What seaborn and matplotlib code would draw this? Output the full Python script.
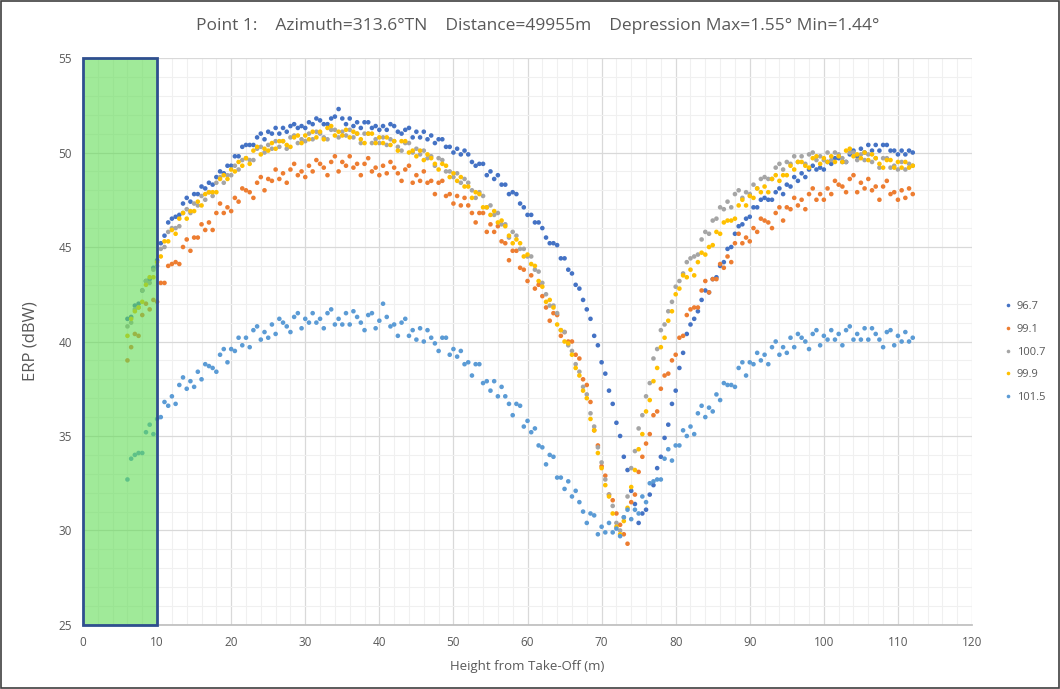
import numpy as np
import pandas as pd
import matplotlib
matplotlib.use("Agg")
import matplotlib.pyplot as plt
from matplotlib.patches import Rectangle
from matplotlib.lines import Line2D
import seaborn as sns

# ---------------- data ----------------
series_names = ["96.7", "99.1", "100.7", "99.9", "101.5"]
series_colors = ["#4472C4", "#ED7D31", "#A5A5A5", "#FFC000", "#5B9BD5"]

# heights from take-off, every 0.5 m from 6 m to 112 m
heights = np.arange(6.0, 112.01, 0.5)

erp_96_7 = [
    41.2, 41.3, 41.9, 42.0, 42.7, 43.2, 43.3, 43.9, 44.3, 45.2,
    45.6, 46.3, 46.5, 46.6, 46.7, 47.3, 47.6, 47.4, 47.8, 47.8,
    48.2, 48.1, 48.4, 48.3, 48.7, 49.0, 48.9, 49.3, 49.3, 49.8,
    49.8, 50.3, 50.4, 50.4, 50.4, 50.8, 51.0, 50.7, 51.1, 51.0,
    51.3, 51.0, 51.3, 51.1, 51.4, 51.5, 51.3, 51.4, 51.3, 51.6,
    51.5, 51.8, 51.7, 51.5, 51.5, 51.8, 51.9, 52.3, 51.8, 51.5,
    51.8, 51.4, 51.6, 51.3, 51.6, 51.6, 51.3, 51.4, 51.2, 51.4,
    51.2, 51.5, 51.4, 51.1, 51.0, 51.2, 51.3, 50.8, 51.1, 50.8,
    51.1, 50.7, 50.9, 50.5, 50.7, 50.7, 50.3, 50.3, 50.0, 50.2,
    49.9, 50.1, 49.9, 49.5, 49.3, 49.4, 49.4, 48.8, 49.0, 48.6,
    48.8, 48.3, 48.3, 47.8, 47.9, 47.8, 47.3, 47.1, 46.7, 46.7,
    46.3, 46.3, 46.0, 45.5, 45.2, 45.2, 45.1, 44.4, 44.4, 43.8,
    43.6, 43.0, 42.8, 42.2, 41.7, 41.2, 40.3, 39.8, 38.9, 38.3,
    37.4, 36.7, 35.7, 35.0, 33.9, 33.2, 32.1, 31.4, 30.4, 30.9,
    31.1, 31.9, 32.4, 33.3, 33.9, 34.9, 35.6, 36.7, 37.4, 38.6,
    39.4, 40.4, 40.9, 41.2, 41.6, 42.2, 42.7, 42.6, 43.3, 43.4,
    44.0, 44.2, 44.9, 45.0, 45.7, 46.1, 46.2, 46.5, 46.6, 47.1,
    47.1, 47.5, 47.6, 47.5, 47.5, 47.9, 48.1, 47.8, 48.3, 48.2,
    48.7, 48.5, 48.9, 48.7, 49.1, 49.3, 49.1, 49.2, 49.1, 49.5,
    49.4, 49.7, 49.7, 49.5, 49.5, 49.9, 50.1, 49.8, 50.2, 50.0,
    50.4, 50.1, 50.4, 50.1, 50.4, 50.4, 50.1, 50.1, 49.9, 50.1,
    49.9, 50.1, 50.0,
]

erp_99_1 = [
    39.0, 39.7, 40.4, 40.3, 41.4, 42.0, 41.7, 42.2, 42.1, 43.1,
    43.1, 44.0, 44.1, 44.2, 44.1, 45.0, 45.4, 44.8, 45.5, 45.5,
    46.2, 45.9, 46.3, 45.9, 46.8, 47.3, 46.8, 47.1, 46.9, 47.6,
    47.4, 48.1, 48.0, 47.9, 47.6, 48.4, 48.7, 48.0, 48.6, 48.5,
    49.1, 48.6, 48.9, 48.4, 49.1, 49.4, 48.8, 49.0, 48.7, 49.3,
    49.0, 49.6, 49.4, 49.2, 48.8, 49.5, 49.8, 49.0, 49.5, 49.3,
    49.8, 49.2, 49.4, 48.8, 49.4, 49.7, 49.0, 49.2, 48.8, 49.3,
    48.9, 49.5, 49.2, 48.9, 48.5, 49.1, 49.3, 48.4, 48.8, 48.5,
    49.0, 48.4, 48.5, 47.8, 48.4, 48.5, 47.7, 47.8, 47.3, 47.7,
    47.2, 47.6, 47.2, 46.8, 46.3, 46.8, 46.8, 45.8, 46.2, 45.8,
    46.1, 45.3, 45.2, 44.3, 44.8, 44.8, 43.9, 43.8, 43.2, 43.5,
    42.8, 43.0, 42.4, 41.8, 41.1, 41.5, 41.4, 40.3, 40.5, 40.0,
    40.0, 39.3, 39.1, 38.0, 37.7, 36.8, 35.3, 34.5, 33.4, 32.9,
    31.9, 31.6, 30.9, 30.3, 29.8, 29.3, 31.5, 31.9, 33.1, 33.9,
    34.6, 35.1, 36.1, 36.3, 37.5, 38.2, 38.3, 39.0, 39.3, 40.2,
    40.3, 41.4, 41.7, 41.8, 41.8, 42.7, 43.2, 42.6, 43.3, 43.3,
    44.1, 43.9, 44.5, 44.2, 45.2, 45.7, 45.2, 45.5, 45.3, 46.0,
    45.8, 46.5, 46.4, 46.3, 46.0, 46.8, 47.1, 46.4, 47.1, 47.0,
    47.6, 47.2, 47.5, 47.0, 47.8, 48.1, 47.5, 47.8, 47.5, 48.1,
    47.8, 48.5, 48.3, 48.2, 47.9, 48.6, 48.8, 47.9, 48.4, 48.1,
    48.6, 48.0, 48.2, 47.5, 48.2, 48.5, 47.8, 47.9, 47.5, 48.0,
    47.6, 48.1, 47.8,
]

erp_100_7 = [
    40.8, 41.0, 41.7, 41.8, 42.7, 43.2, 43.1, 43.8, 44.0, 44.9,
    45.0, 45.8, 46.0, 46.0, 46.1, 46.8, 47.0, 46.8, 47.3, 47.2,
    47.7, 47.5, 47.9, 47.7, 48.4, 48.7, 48.4, 48.8, 48.8, 49.3,
    49.1, 49.6, 49.7, 49.6, 49.6, 50.2, 50.3, 50.0, 50.4, 50.2,
    50.6, 50.3, 50.6, 50.2, 50.8, 50.9, 50.5, 50.7, 50.6, 51.0,
    50.7, 51.1, 51.0, 50.8, 50.7, 51.2, 51.2, 50.8, 51.1, 50.9,
    51.2, 50.8, 51.0, 50.5, 51.0, 51.0, 50.5, 50.7, 50.5, 50.8,
    50.4, 50.7, 50.6, 50.3, 50.1, 50.5, 50.5, 50.0, 50.2, 49.9,
    50.1, 49.7, 49.8, 49.3, 49.7, 49.6, 49.0, 49.0, 48.7, 48.9,
    48.4, 48.6, 48.4, 48.0, 47.6, 47.9, 47.7, 47.1, 47.2, 46.7,
    46.8, 46.2, 46.2, 45.5, 45.8, 45.6, 44.9, 44.9, 44.5, 44.5,
    43.8, 43.7, 43.1, 42.5, 41.9, 41.9, 41.5, 40.6, 40.5, 39.8,
    39.5, 38.8, 38.4, 37.6, 37.2, 36.2, 35.5, 34.4, 33.6, 32.7,
    31.9, 31.3, 30.4, 30.0, 30.7, 31.8, 33.3, 34.2, 35.4, 36.1,
    37.1, 37.8, 39.1, 39.6, 40.6, 40.9, 41.6, 42.1, 42.9, 43.2,
    43.6, 44.2, 44.4, 44.5, 44.6, 45.4, 45.8, 45.7, 46.4, 46.5,
    47.1, 47.0, 47.4, 47.1, 47.8, 48.0, 47.6, 47.9, 47.8, 48.3,
    48.1, 48.6, 48.7, 48.6, 48.6, 49.2, 49.4, 49.1, 49.5, 49.4,
    49.8, 49.5, 49.8, 49.4, 49.9, 50.0, 49.6, 49.8, 49.6, 50.0,
    49.6, 50.0, 49.9, 49.7, 49.5, 50.0, 50.0, 49.6, 49.9, 49.6,
    49.9, 49.5, 49.7, 49.2, 49.7, 49.7, 49.2, 49.3, 49.1, 49.5,
    49.1, 49.4, 49.3,
]

erp_99_9 = [
    40.3, 41.2, 41.6, 41.8, 42.1, 43.0, 43.4, 43.4, 44.2, 44.5,
    45.3, 45.3, 45.9, 45.7, 46.5, 46.8, 46.5, 46.9, 46.9, 47.4,
    47.2, 47.8, 47.9, 47.9, 47.9, 48.6, 48.8, 48.6, 49.1, 49.0,
    49.5, 49.3, 49.7, 49.4, 50.1, 50.3, 49.9, 50.2, 50.1, 50.5,
    50.2, 50.6, 50.6, 50.4, 50.3, 50.8, 50.9, 50.5, 50.9, 50.7,
    51.1, 50.8, 51.1, 50.7, 51.3, 51.4, 50.9, 51.1, 50.9, 51.2,
    50.8, 51.1, 51.0, 50.7, 50.5, 51.0, 51.0, 50.5, 50.8, 50.5,
    50.8, 50.4, 50.6, 50.1, 50.6, 50.6, 50.0, 50.1, 49.8, 50.1,
    49.6, 49.9, 49.7, 49.4, 49.1, 49.4, 49.3, 48.7, 48.9, 48.5,
    48.7, 48.2, 48.2, 47.6, 47.9, 47.8, 47.1, 47.1, 46.7, 46.9,
    46.3, 46.4, 46.1, 45.6, 45.2, 45.4, 45.2, 44.5, 44.6, 44.1,
    44.0, 43.2, 42.9, 42.1, 42.2, 41.8, 40.9, 40.6, 40.0, 39.9,
    39.3, 38.6, 38.2, 37.4, 37.0, 35.9, 35.3, 34.1, 33.3, 32.4,
    31.8, 30.9, 30.2, 29.8, 30.5, 31.2, 32.3, 33.2, 34.3, 35.1,
    36.3, 36.9, 37.9, 38.6, 39.7, 40.2, 41.1, 41.6, 42.5, 42.8,
    43.5, 43.4, 43.8, 43.5, 44.2, 44.7, 44.6, 45.0, 45.1, 45.8,
    45.7, 46.3, 46.4, 46.4, 46.5, 47.2, 47.5, 47.2, 47.7, 47.6,
    48.1, 47.9, 48.2, 47.9, 48.6, 48.8, 48.5, 48.8, 48.8, 49.3,
    49.1, 49.5, 49.5, 49.3, 49.2, 49.7, 49.8, 49.4, 49.7, 49.5,
    49.8, 49.5, 49.8, 49.5, 50.1, 50.2, 49.8, 49.9, 49.7, 50.0,
    49.6, 49.9, 49.7, 49.4, 49.2, 49.6, 49.6, 49.2, 49.5, 49.2,
    49.5, 49.2, 49.3,
]

erp_101_5 = [
    32.7, 33.8, 34.0, 34.1, 34.1, 35.2, 35.6, 35.1, 35.9, 36.0,
    36.8, 36.6, 37.1, 36.7, 37.7, 38.1, 37.5, 37.9, 37.6, 38.4,
    38.0, 38.8, 38.7, 38.6, 38.4, 39.3, 39.6, 38.9, 39.6, 39.5,
    40.2, 39.8, 40.2, 39.7, 40.6, 40.8, 40.1, 40.5, 40.2, 40.9,
    40.4, 41.2, 41.0, 40.8, 40.5, 41.3, 41.5, 40.7, 41.2, 41.0,
    41.5, 41.0, 41.2, 40.7, 41.5, 41.7, 40.9, 41.2, 40.9, 41.5,
    40.9, 41.6, 41.3, 41.0, 40.6, 41.4, 41.5, 40.7, 41.1, 42.0,
    41.3, 40.8, 40.9, 40.3, 41.0, 41.2, 40.3, 40.6, 40.1, 40.7,
    40.0, 40.6, 40.2, 39.9, 39.5, 40.2, 40.2, 39.3, 39.6, 39.2,
    39.5, 38.8, 38.9, 38.2, 38.8, 38.8, 37.8, 37.9, 37.4, 37.9,
    37.1, 37.6, 37.1, 36.7, 36.1, 36.7, 36.6, 35.5, 35.8, 35.2,
    35.4, 34.5, 34.4, 33.5, 34.0, 33.9, 32.8, 32.8, 32.2, 32.6,
    31.8, 32.1, 31.5, 31.0, 30.4, 30.9, 30.8, 29.8, 30.2, 29.9,
    30.4, 29.9, 30.1, 29.7, 30.7, 31.1, 30.6, 31.1, 30.9, 31.8,
    31.5, 32.5, 32.6, 32.7, 32.7, 33.8, 34.3, 33.7, 34.5, 34.5,
    35.3, 35.0, 35.5, 35.1, 36.2, 36.6, 36.0, 36.5, 36.3, 37.2,
    36.9, 37.8, 37.7, 37.7, 37.6, 38.6, 38.9, 38.2, 38.9, 38.8,
    39.4, 39.0, 39.3, 38.8, 39.7, 40.0, 39.3, 39.7, 39.4, 40.2,
    39.7, 40.4, 40.2, 40.0, 39.6, 40.4, 40.6, 39.8, 40.3, 40.1,
    40.6, 40.1, 40.4, 39.8, 40.6, 40.8, 40.1, 40.4, 40.1, 40.7,
    40.1, 40.7, 40.4, 40.1, 39.7, 40.5, 40.6, 39.8, 40.3, 40.0,
    40.5, 40.0, 40.2,
]

series_values = [erp_96_7, erp_99_1, erp_100_7, erp_99_9, erp_101_5]

title_text = "Point 1:    Azimuth=313.6°TN    Distance=49955m    Depression Max=1.55° Min=1.44°"
x_label = "Height from Take-Off (m)"
y_label = "ERP (dBW)"
x_ticks = [0, 10, 20, 30, 40, 50, 60, 70, 80, 90, 100, 110, 120]
y_ticks = [25, 30, 35, 40, 45, 50, 55]
zone_x = [0, 10]

# ---------------- build long table ----------------
frames = []
for name, vals in zip(series_names, series_values):
    assert len(vals) == len(heights), (name, len(vals))
    frames.append(pd.DataFrame({"Height": heights, "ERP": vals, "Freq": name}))
df = pd.concat(frames, ignore_index=True)

# ---------------- plot ----------------
sns.set_theme(style="white")
plt.rcParams["font.family"] = ["Open Sans", "DejaVu Sans"]

fig = plt.figure(figsize=(10.6, 6.89), dpi=100)
ax = fig.add_axes([0.0783, 0.0929, 0.8387, 0.8229])

palette = dict(zip(series_names, series_colors))
sns.scatterplot(data=df, x="Height", y="ERP", hue="Freq", hue_order=series_names,
                palette=palette, s=11, linewidth=0, legend=False, ax=ax, zorder=3)

ax.set_xlim(0, 120)
ax.set_ylim(25, 55)
ax.set_xticks(x_ticks)
ax.set_yticks(y_ticks)
ax.set_xticks(np.arange(0, 121, 2), minor=True)
ax.set_yticks(np.arange(25, 56, 1), minor=True)
ax.grid(which="major", color="#D9D9D9", linewidth=0.9, zorder=0)
ax.grid(which="minor", color="#F0F0F0", linewidth=0.8, zorder=0)
ax.set_axisbelow(True)
for side in ["top", "right", "left"]:
    ax.spines[side].set_visible(False)
ax.spines["bottom"].set_color("#BFBFBF")
ax.tick_params(which="both", length=0, colors="#595959", labelsize=8.5, pad=8)

ax.set_xlabel(x_label, fontsize=9.5, color="#595959", labelpad=8)
ax.set_ylabel(y_label, fontsize=12, color="#595959", labelpad=14)

# green take-off zone overlay
ax.add_patch(Rectangle((zone_x[0], 25), zone_x[1] - zone_x[0], 30,
                       facecolor=(97/255, 220/255, 85/255), alpha=0.6,
                       edgecolor="none", zorder=5))
ax.add_patch(Rectangle((zone_x[0], 25), zone_x[1] - zone_x[0], 30,
                       facecolor="none", edgecolor="#2F4F8F",
                       linewidth=2.0, zorder=6, clip_on=False))

fig.text(0.507, 0.962, title_text, ha="center", va="center",
         fontsize=12.5, color="#595959")

handles = [Line2D([0], [0], marker="o", linestyle="none", markersize=2.6,
                  markerfacecolor=c, markeredgewidth=0) for c in series_colors]
leg = fig.legend(handles, series_names, loc="center left",
                 bbox_to_anchor=(0.937, 0.489), frameon=False, fontsize=8,
                 handletextpad=0.4, labelspacing=1.05, handlelength=0.8)
for t in leg.get_texts():
    t.set_color("#595959")

# outer frame
fig.patches.append(Rectangle((0.001, 0.001), 0.998, 0.998, transform=fig.transFigure,
                             fill=False, edgecolor="#404040", linewidth=1.2))

fig.savefig("out.png", dpi=100)
